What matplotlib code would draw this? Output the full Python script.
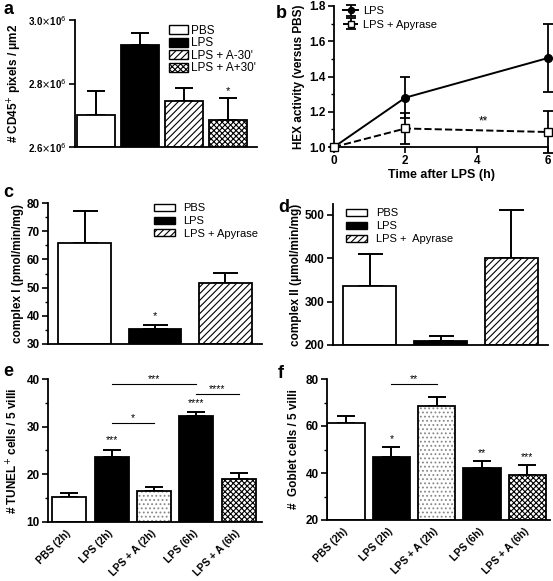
import numpy as np
import matplotlib
matplotlib.use("Agg")
import matplotlib.pyplot as plt
import matplotlib.patches as mp
from matplotlib.ticker import MultipleLocator, FuncFormatter

# ---- data ----
a_labels = ["PBS", "LPS", "LPS + A-30'", "LPS + A+30'"]
a_vals = [2.70e6, 2.92e6, 2.745e6, 2.685e6]
a_errs = [0.075e6, 0.04e6, 0.04e6, 0.07e6]

b_time = [0, 2, 6]
b_lps = [1.0, 1.28, 1.505]
b_lps_err = [0.0, 0.118, 0.195]
b_apy = [1.0, 1.105, 1.085]
b_apy_err = [0.0, 0.09, 0.12]

c_labels = ["PBS", "LPS", "LPS + Apyrase"]
c_vals = [65.8, 35.3, 51.8]
c_errs = [11.5, 1.4, 3.5]

d_labels = ["PBS", "LPS", "LPS +  Apyrase"]
d_vals = [335, 210, 400]
d_errs = [75, 10, 112]

ef_labels = ["PBS (2h)", "LPS (2h)", "LPS + A (2h)", "LPS (6h)", "LPS + A (6h)"]
e_vals = [15.2, 23.7, 16.6, 32.2, 19.0]
e_errs = [0.8, 1.5, 0.7, 0.8, 1.2]
f_vals = [61.3, 47.0, 68.5, 42.0, 39.3]
f_errs = [2.9, 4.0, 3.8, 3.0, 4.0]

W, H = 553, 581
fig = plt.figure(figsize=(W / 100, H / 100), dpi=100)
plt.rcParams['font.family'] = ['Liberation Sans', 'DejaVu Sans']
plt.rcParams['hatch.linewidth'] = 0.8

YLAB = 8.5
TICK = 8.5


def axes_px(left, top, right, bottom):
    return fig.add_axes([left / W, 1 - bottom / H, (right - left) / W, (bottom - top) / H])


def style(ax):
    for s in ['top', 'right']:
        ax.spines[s].set_visible(False)
    for s in ['left', 'bottom']:
        ax.spines[s].set_linewidth(1.3)
    ax.tick_params(axis='y', width=1.2, length=4, labelsize=TICK, pad=2)
    ax.tick_params(axis='y', which='minor', width=1.0, length=2.5)
    for t in ax.get_yticklabels():
        t.set_fontweight('bold')


# styles: (face, hatch, hatchcolor)
STY = {
    'white': ('white', None, None),
    'black': ('black', None, None),
    'stripe': ('white', '/////', 'black'),
    'dots': ('white', '....', '#888888'),
    'check': ('white', 'xxxxxx', 'black'),
}


def bars(ax, x, vals, errs, kinds, width, capsize):
    y0 = ax.get_ylim()[0]
    for xi, v, e, k in zip(x, vals, errs, kinds):
        face, hatch, hc = STY[k]
        ax.errorbar(xi, v, yerr=[[0], [e]], fmt='none', ecolor='black',
                    elinewidth=1.4, capsize=capsize, capthick=1.4, zorder=1)
        if hatch:
            ax.bar(xi, v - y0, bottom=y0, width=width,
                   color=face, hatch=hatch, edgecolor=hc, linewidth=0, zorder=2)
            ax.bar(xi, v - y0, bottom=y0, width=width,
                   fill=False, edgecolor='black', linewidth=1.3, zorder=3)
        else:
            ax.bar(xi, v - y0, bottom=y0, width=width,
                   color=face, edgecolor='black', linewidth=1.3, zorder=2)


def legend_handles(kinds, labels):
    hs = []
    for k, lab in zip(kinds, labels):
        face, hatch, hc = STY[k]
        if hatch:
            hs.append(mp.Patch(facecolor=face, hatch=hatch, edgecolor='black', label=lab))
        else:
            hs.append(mp.Patch(facecolor=face, edgecolor='black', label=lab))
    return hs


def sig(ax, x, y, s, size=7.5):
    ax.text(x, y, s, ha='center', va='bottom', fontsize=size)


def bracket(ax, x1, x2, y, s):
    ax.plot([x1, x2], [y, y], color='black', lw=0.8)
    sig(ax, (x1 + x2) / 2, y, s)


def rot_labels(ax):
    ax.set_xticks(range(len(ef_labels)))
    ax.set_xticklabels(ef_labels, rotation=45, ha='right', va='center',
                       rotation_mode='anchor', fontsize=7.5, fontweight='bold')
    ax.tick_params(axis='x', length=0, pad=7)


# ---- panel a ----
ax = axes_px(75, 20, 257, 147)
ax.set_ylim(2.6e6, 3.0e6)
ax.set_xlim(-0.48, 3.65)
bars(ax, range(4), a_vals, a_errs, ['white', 'black', 'stripe', 'check'], 0.86, 6.5)
ax.set_yticks([2.6e6, 2.8e6, 3.0e6])
ax.yaxis.set_major_formatter(FuncFormatter(lambda v, p: r'%.1f$\times$10$^6$' % (v / 1e6)))
ax.set_xticks([])
style(ax)
for t in ax.get_yticklabels():
    t.set_fontsize(7)
ax.set_ylabel('# CD45$^{+}$ pixels / \u03bcm2', fontsize=YLAB, fontweight='bold', labelpad=3)
sig(ax, 3, a_vals[3] + a_errs[3] + 0.005e6, '*', 8)
ax.legend(handles=legend_handles(['white', 'black', 'stripe', 'check'], a_labels),
          loc='upper right', bbox_to_anchor=(1.02, 1.0), frameon=False, fontsize=8.5,
          handlelength=1.6, handleheight=0.8, labelspacing=0.05, handletextpad=0.3,
          borderaxespad=0)

# ---- panel b ----
ax = axes_px(334, 6, 548, 147)
ax.set_xlim(0, 6)
ax.set_ylim(1.0, 1.8)
ax.errorbar(b_time, b_lps, yerr=b_lps_err, color='black', lw=1.4, marker='o', ms=5.5,
            capsize=3.5, elinewidth=1.3, capthick=1.3, clip_on=False, zorder=3, label='LPS')
ax.errorbar(b_time, b_apy, yerr=b_apy_err, color='black', lw=1.4, ls='--', marker='s', ms=6,
            mfc='white', capsize=3.5, elinewidth=1.3, capthick=1.3, clip_on=False, zorder=3,
            label='LPS + Apyrase')
ax.set_xticks([0, 2, 4, 6])
ax.set_yticks([1.0, 1.2, 1.4, 1.6, 1.8])
ax.yaxis.set_minor_locator(MultipleLocator(0.1))
ax.yaxis.set_major_formatter(FuncFormatter(lambda v, p: '%.1f' % v))
style(ax)
ax.tick_params(axis='x', width=1.2, length=4, labelsize=TICK, pad=2)
for t in ax.get_xticklabels():
    t.set_fontweight('bold')
ax.set_xlabel('Time after LPS (h)', fontsize=9, fontweight='bold', labelpad=1)
ax.set_ylabel('HEX activity (versus PBS)', fontsize=YLAB, fontweight='bold', labelpad=3)
sig(ax, 4.2, 1.11, '**', 8.5)
ax.legend(loc='upper left', bbox_to_anchor=(0.02, 1.03), frameon=False, fontsize=8,
          handlelength=1.4, labelspacing=0.3, handletextpad=0.4, borderaxespad=0,
          markerscale=0.8)

# ---- panel c ----
ax = axes_px(48, 203, 262, 344)
ax.set_ylim(30, 80)
ax.set_xlim(-0.52, 2.52)
bars(ax, range(3), c_vals, c_errs, ['white', 'black', 'stripe'], 0.75, 9)
ax.set_xticks([])
ax.yaxis.set_major_locator(MultipleLocator(10))
ax.yaxis.set_minor_locator(MultipleLocator(5))
style(ax)
ax.set_ylabel('complex I (pmol/min/mg)', fontsize=YLAB, fontweight='bold', labelpad=2)
sig(ax, 1, c_vals[1] + c_errs[1] + 1.3, '*', 8)
ax.legend(handles=legend_handles(['white', 'black', 'stripe'], c_labels),
          loc='upper right', bbox_to_anchor=(1.0, 1.03), frameon=False, fontsize=8,
          handlelength=1.9, handleheight=0.6, labelspacing=0.25, handletextpad=0.8,
          borderaxespad=0)

# ---- panel d ----
ax = axes_px(333, 204, 548, 345)
ax.set_ylim(200, 525)
ax.set_xlim(-0.52, 2.52)
bars(ax, range(3), d_vals, d_errs, ['white', 'black', 'stripe'], 0.75, 9)
ax.set_xticks([])
ax.set_yticks([200, 300, 400, 500])
style(ax)
ax.set_ylabel('complex II (\u03bcmol/min/mg)', fontsize=YLAB, fontweight='bold', labelpad=2)
ax.legend(handles=legend_handles(['white', 'black', 'stripe'], d_labels),
          loc='upper left', bbox_to_anchor=(0.04, 1.0), frameon=False, fontsize=8,
          handlelength=1.9, handleheight=0.6, labelspacing=0.25, handletextpad=0.8,
          borderaxespad=0)

# ---- panel e ----
ef_kinds = ['white', 'black', 'dots', 'black', 'check']
ax = axes_px(48, 379, 262, 522)
ax.set_ylim(10, 40)
ax.set_xlim(-0.5, 4.55)
bars(ax, range(5), e_vals, e_errs, ef_kinds, 0.8, 6.5)
ax.yaxis.set_major_locator(MultipleLocator(10))
ax.yaxis.set_minor_locator(MultipleLocator(5))
style(ax)
rot_labels(ax)
ax.set_ylabel('# TUNEL$^{+}$ cells / 5 villi', fontsize=YLAB, fontweight='bold', labelpad=4)
sig(ax, 1, e_vals[1] + e_errs[1] + 1.0, '***')
sig(ax, 3, e_vals[3] + e_errs[3] + 0.9, '****')
bracket(ax, 1, 2, 30.8, '*')
bracket(ax, 1, 3, 39.0, '***')
bracket(ax, 3, 4, 36.9, '****')

# ---- panel f ----
ax = axes_px(327, 379, 550, 520)
ax.set_ylim(20, 80)
ax.set_xlim(-0.42, 4.5)
bars(ax, range(5), f_vals, f_errs, ef_kinds, 0.83, 6.5)
ax.yaxis.set_major_locator(MultipleLocator(20))
ax.yaxis.set_minor_locator(MultipleLocator(10))
style(ax)
rot_labels(ax)
ax.set_ylabel('#  Goblet cells / 5 villi', fontsize=YLAB, fontweight='bold', labelpad=4)
sig(ax, 1, f_vals[1] + f_errs[1] + 1.5, '*')
sig(ax, 3, f_vals[3] + f_errs[3] + 1.5, '**')
sig(ax, 4, f_vals[4] + f_errs[4] + 1.5, '***')
bracket(ax, 1, 2, 78, '**')

# ---- panel letters ----
for lab, x, y in [('a', 3, 9), ('b', 276, 14), ('c', 3, 193), ('d', 278, 208),
                  ('e', 3, 372), ('f', 278, 374)]:
    fig.text(x / W, 1 - y / H, lab, fontsize=13, fontweight='bold', va='center')

fig.savefig('out.png', dpi=100)
